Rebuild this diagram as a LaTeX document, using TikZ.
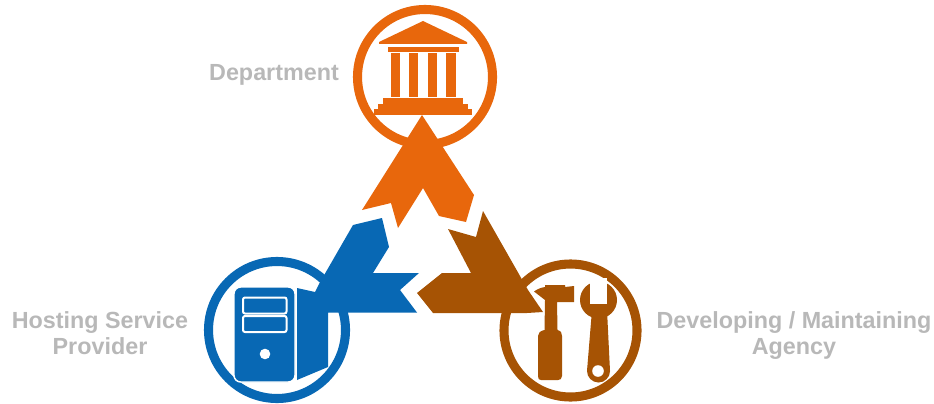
\documentclass[tikz,border=0pt]{standalone}
\usepackage{fontspec}
\setmainfont{Liberation Sans}
\definecolor{org}{HTML}{E8670C}
\definecolor{blu}{HTML}{0868B4}
\definecolor{brn}{HTML}{A65304}
\definecolor{gry}{HTML}{B8B8B8}
\tikzset{lbl/.style={text=gry,font=\bfseries\fontsize{17.5}{19.5}\selectfont,align=center,inner sep=0pt},
ring/.style={draw=#1,fill=white,line width=6.8pt}}
\begin{document}
\begin{tikzpicture}[x=0.75pt,y=-0.75pt]
\useasboundingbox (0,0) rectangle (934,403);
\node[lbl] (dept) at (274,75) {Department};
\node[lbl] (host) at (100,333) {Hosting Service\\Provider};
\node[lbl] (agency) at (794,335.5) {Developing / Maintaining\\Agency};
% rings
\draw[ring=org] (425,77) circle (67.5);
\draw[ring=blu] (277,330) circle (68.5);
\draw[ring=brn] (570.5,330.5) circle (66.5);
% temple
\fill[org] (423,21) -- (467,42) -- (467,44) -- (379,44) -- (379,42) -- cycle;
\fill[org] (387.5,46.7) rectangle (458.7,52);
\foreach \x in {390.7,409,427.7,446.3} \fill[org] (\x,53.5) rectangle +(9.3,43.5);
\fill[org] (383,98) rectangle (463,104);
\fill[org] (378,103.5) rectangle (468,109.5);
\fill[org] (374,109) rectangle (472,115);
% arrows
\fill[org] (422,115) -- (474,195) -- (466,222) -- (439,216) -- (423,188) -- (398,228) -- (391,203) -- (362,210) -- cycle;
\fill[blu] (382,218) -- (353,225) -- (319,284) -- (315,292) -- (297,288) -- (297,380) -- (328,367) -- (328,312.5) -- (417,312.5) -- (400,290) -- (419,273) -- (373,273) -- (389,247) -- cycle;
\fill[brn] (483,211) -- (528,290) -- (543,312) -- (527,313) -- (490,313) -- (433,313) -- (417,293) -- (442,273) -- (471,273) -- (448,229) -- (476,237) -- cycle;
% server
\draw[white,fill=blu,line width=1.1pt,rounded corners=5pt] (234,287) rectangle (295,382);
\draw[white,fill=blu,line width=1.5pt,rounded corners=1.5pt] (243,297.5) rectangle (286.5,313.5);
\draw[white,fill=blu,line width=1.5pt,rounded corners=1.5pt] (243,316) rectangle (286.5,332);
\fill[white] (265,354) circle (5.3);
% hammer
\fill[brn] (534,291.5) .. controls (538,288.5) and (542,287.5) .. (545,287) -- (545,285) -- (565,285) -- (565,287) -- (574,286) -- (574,302) -- (557,302) -- (557.5,330) .. controls (561,331) and (562,333) .. (562,336) -- (562,376) .. controls (562,379) and (560,380) .. (558,380) -- (541,380) .. controls (539,380) and (538,379) .. (538,376) -- (538,336) .. controls (538,333) and (540,331) .. (544.5,330) -- (545,300) -- cycle;
% wrench
\fill[brn] (598.5,300) circle (18.5);
\fill[white] (590,278) rectangle (607,304);
\fill[brn] (592,310) -- (607,310) -- (610,371) -- (587,371) -- cycle;
\fill[brn] (598.5,371) circle (11.5);
\fill[white] (598,371) circle (5.8);
\end{tikzpicture}
\end{document}
